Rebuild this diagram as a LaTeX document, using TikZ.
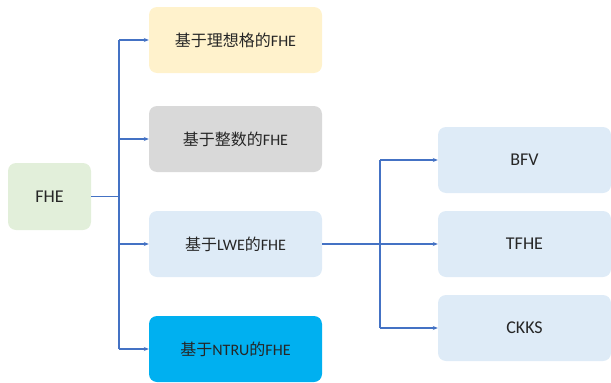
\documentclass[tikz,border=0pt]{standalone}
\usepackage{fontspec}
\setmainfont{Carlito}
\newfontfamily\cjk{Noto Sans CJK SC}
\usetikzlibrary{arrows.meta}
\definecolor{lineblue}{HTML}{4472C4}
\definecolor{cgreen}{HTML}{E2EFDA}
\definecolor{cyellow}{HTML}{FFF2CC}
\definecolor{cgray}{HTML}{D9D9D9}
\definecolor{clight}{HTML}{DEEBF7}
\definecolor{cbright}{HTML}{00B0F0}
\tikzset{
  box/.style={rounded corners=8pt, minimum width=173pt, minimum height=66pt, inner sep=0pt, font=\fontsize{16}{18}\selectfont, text=black!85},
  bigbox/.style={box, font=\fontsize{18}{20}\selectfont},
  conn/.style={draw=lineblue, line width=1.4pt},
  arr/.style={conn, -{Stealth[length=5pt,width=4pt]}}
}
\begin{document}
\begin{tikzpicture}[x=1pt,y=-1pt]
\useasboundingbox (0,0) rectangle (611,383);
\node[bigbox, fill=cgreen, minimum width=83pt, minimum height=67pt] (fhe) at (49.5,196.5) {FHE};
\node[box, fill=cyellow] (ideal) at (235.5,40) {{\cjk 基于理想格的}FHE};
\node[box, fill=cgray] (int) at (235.5,139) {{\cjk 基于整数的}FHE};
\node[box, fill=clight] (lwe) at (235.5,244) {{\cjk 基于}LWE{\cjk 的}FHE};
\node[box, fill=cbright] (ntru) at (235.5,349) {{\cjk 基于}NTRU{\cjk 的}FHE};
\node[bigbox, fill=clight] (bfv) at (524.5,160) {BFV};
\node[bigbox, fill=clight] (tfhe) at (524.5,244) {TFHE};
\node[bigbox, fill=clight] (ckks) at (524.5,328) {CKKS};
\coordinate (t1) at (119,196.5);
\coordinate (t2) at (380,244);
\draw[conn] (fhe.east) -- (t1);
\draw[conn] (119,40) -- (119,349);
\draw[arr] (119,40) -- (ideal.west);
\draw[arr] (119,139) -- (int.west);
\draw[arr] (119,244) -- (lwe.west);
\draw[arr] (119,349) -- (ntru.west);
\draw[conn] (lwe.east) -- (t2);
\draw[conn] (380,160) -- (380,328);
\draw[arr] (380,160) -- (bfv.west);
\draw[arr] (t2) -- (tfhe.west);
\draw[arr] (380,328) -- (ckks.west);
\end{tikzpicture}
\end{document}
